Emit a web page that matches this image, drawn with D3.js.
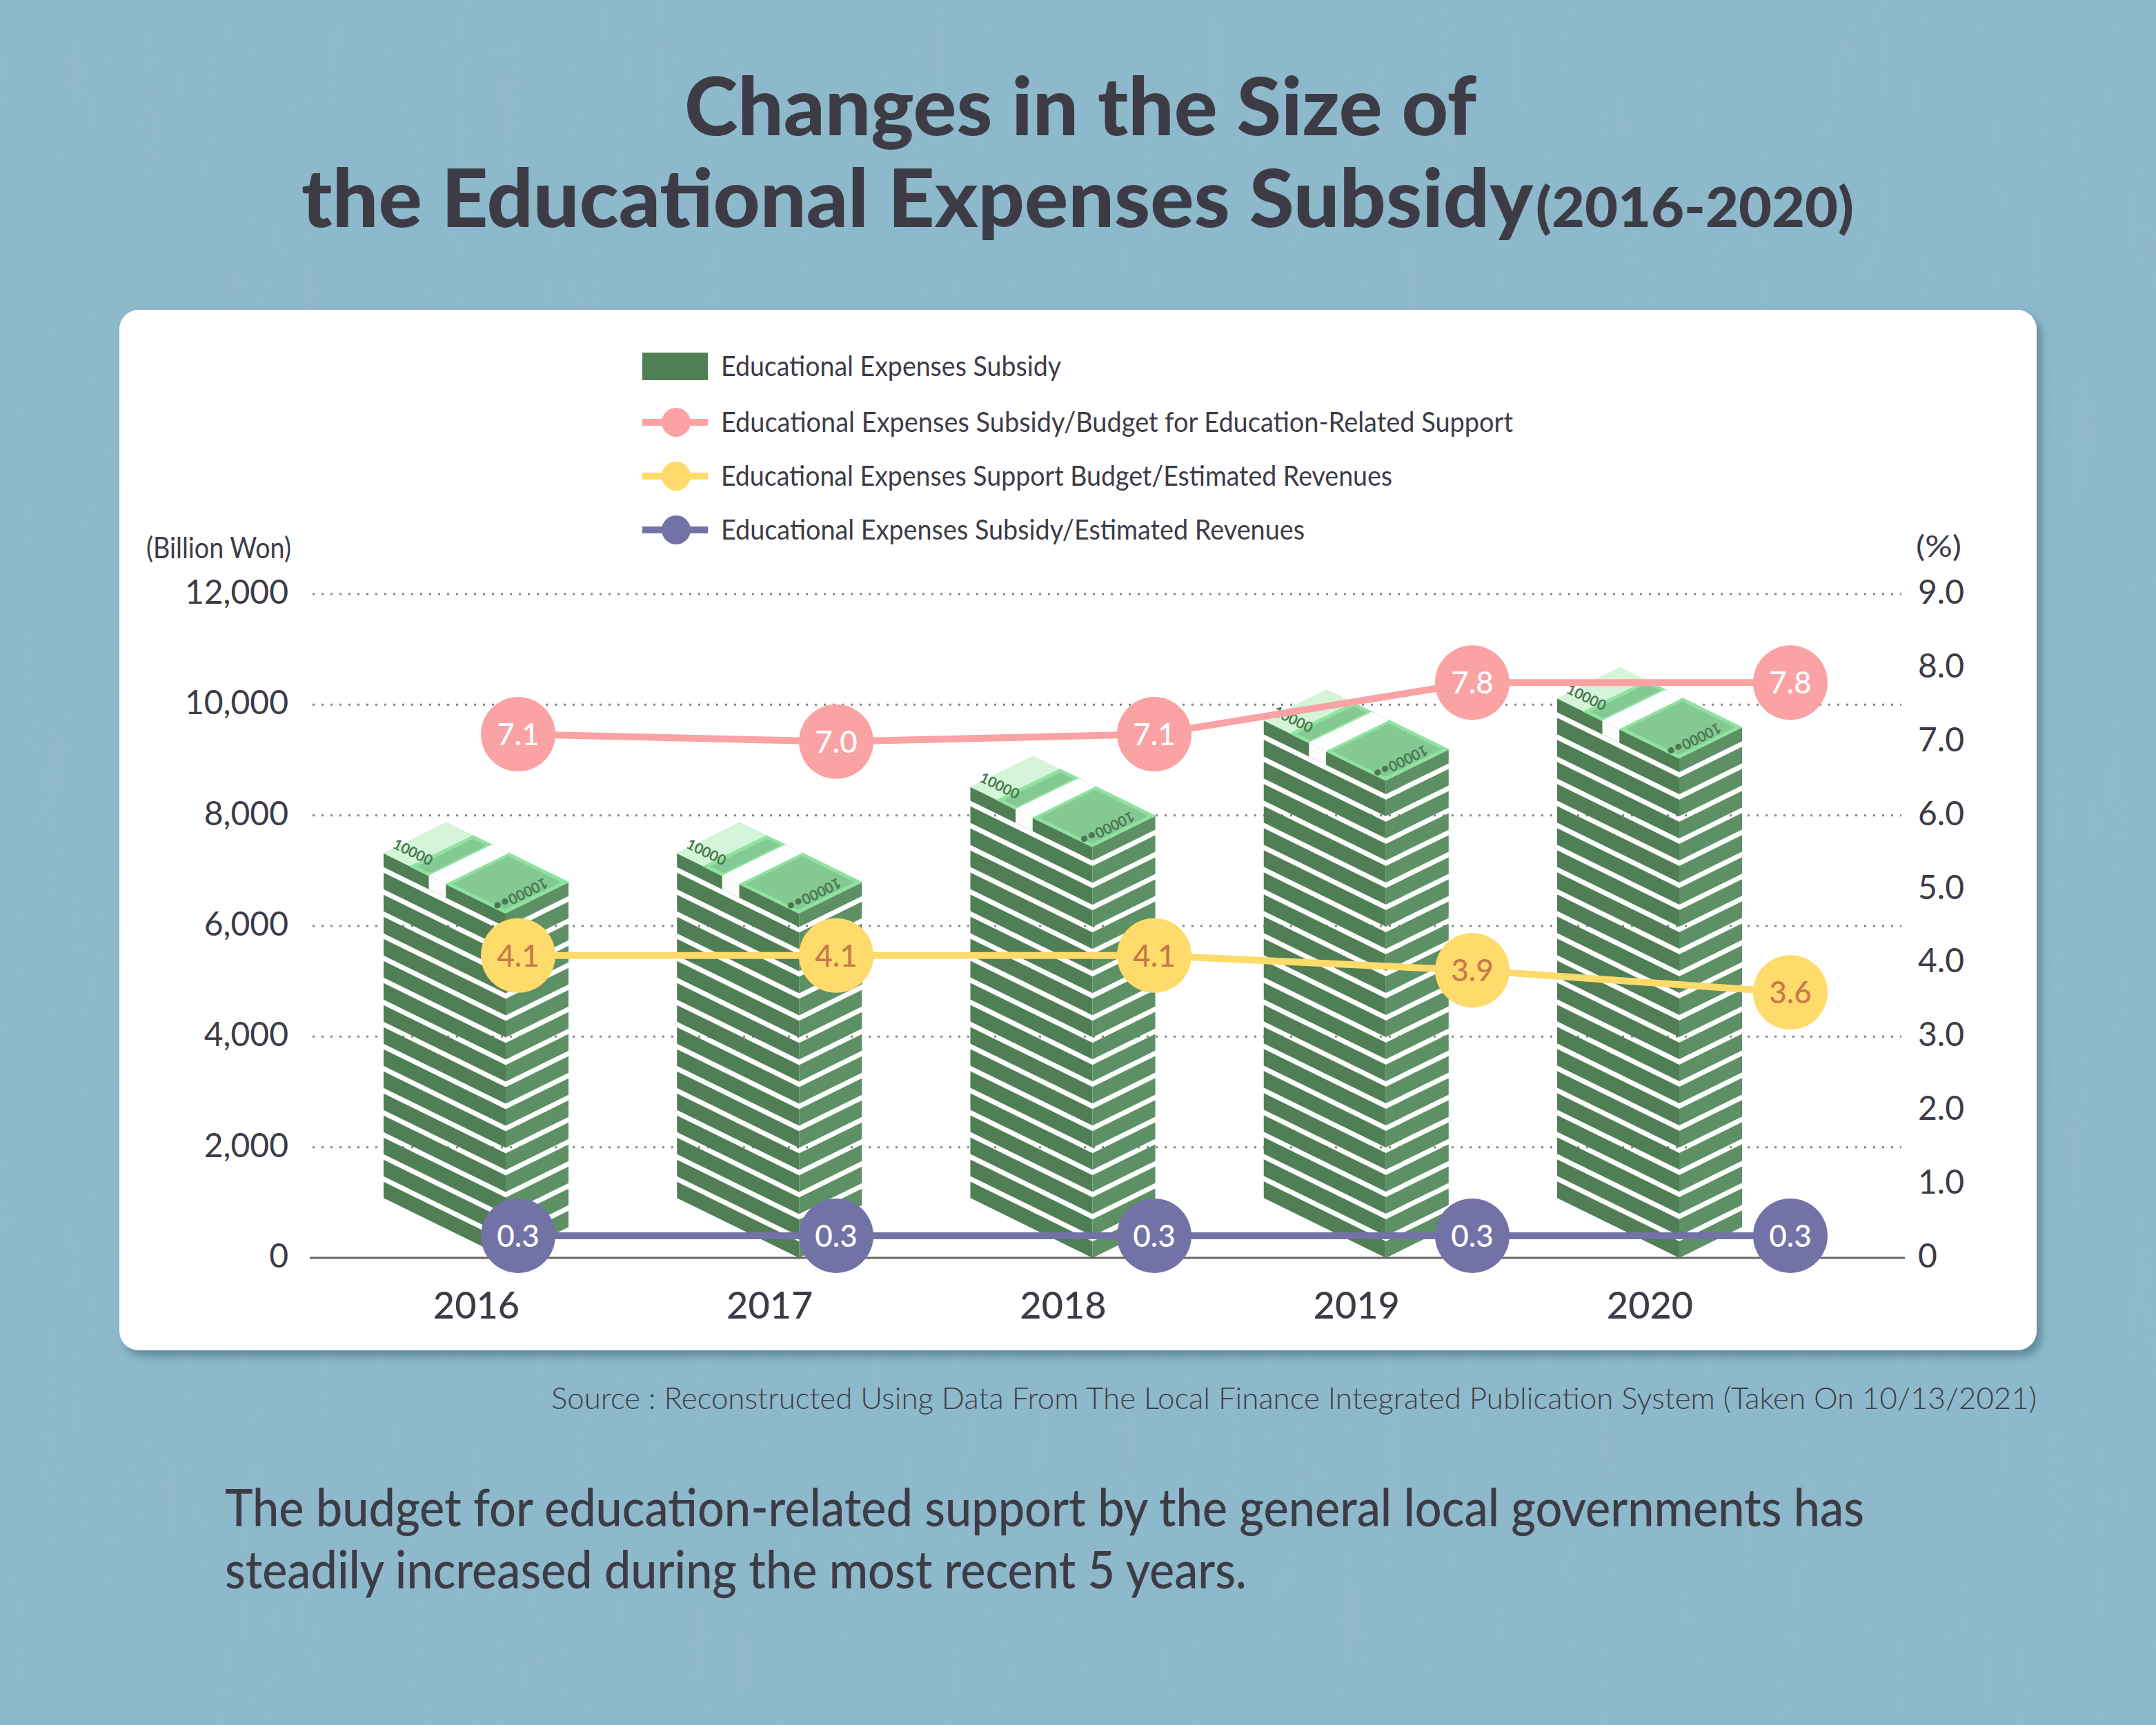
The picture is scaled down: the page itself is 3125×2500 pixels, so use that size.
<!DOCTYPE html>
<html>
<head>
<meta charset="utf-8">
<script src="https://cdn.jsdelivr.net/npm/d3@7"></script>
<style>
  html, body { margin: 0; padding: 0; background: #8cb9cb; }
  svg { display: block; }
  text { font-family: Lato, "Open Sans", sans-serif; fill: #3d3c46; }
</style>
</head>
<body>
<svg id="chart" width="3125" height="2500"></svg>
<script>
(function(){
    'use strict';

    // ---- data ----
    var years = ['2016', '2017', '2018', '2019', '2020'];
    var subsidy = [7870, 7870, 9070, 10270, 10670];          // billion won
    var subsidyPerSupport = [7.1, 7.0, 7.1, 7.8, 7.8];       // %
    var supportPerRevenue = [4.1, 4.1, 4.1, 3.9, 3.6];       // %
    var subsidyPerRevenue = [0.3, 0.3, 0.3, 0.3, 0.3];       // %
    var leftTicks = [0, 2000, 4000, 6000, 8000, 10000, 12000];
    var rightTicks = [0, 1, 2, 3, 4, 5, 6, 7, 8, 9];
    var legendLabels = [
        'Educational Expenses Subsidy',
        'Educational Expenses Subsidy/Budget for Education-Related Support',
        'Educational Expenses Support Budget/Estimated Revenues',
        'Educational Expenses Subsidy/Estimated Revenues'
    ];

    var lineColors = ['#fba2a4', '#fedb6a', '#7372a7'];
    var labelColors = ['#ffffff', '#c8794b', '#ffffff'];
    var green = {left: '#507f56', right: '#5d9165', top: '#84c993', edge: '#8fe3a0', pale: '#d4f5d8', ink: '#4b7851'};

    var svg = d3.select('#chart');
    var defs = svg.append('defs');

    // paper texture + panel shadow
    var tex = defs.append('filter').attr('id', 'paper').attr('x', 0).attr('y', 0).attr('width', 1).attr('height', 1);
    tex.append('feTurbulence').attr('type', 'fractalNoise').attr('baseFrequency', '0.035 0.004')
        .attr('numOctaves', 3).attr('seed', 7);
    tex.append('feColorMatrix').attr('type', 'matrix')
        .attr('values', '0 0 0 0 0.35  0 0 0 0 0.5  0 0 0 0 0.6  0 0 0 -1.1 0.75');
    var sh = defs.append('filter').attr('id', 'shadow').attr('x', '-5%').attr('y', '-5%').attr('width', '110%').attr('height', '112%');
    sh.append('feDropShadow').attr('dx', 7).attr('dy', 9).attr('stdDeviation', 6)
        .attr('flood-color', '#3f6577').attr('flood-opacity', 0.55);

    svg.append('rect').attr('width', 3125).attr('height', 2500).attr('fill', '#8cb9cb');
    svg.append('rect').attr('width', 3125).attr('height', 2500).attr('filter', 'url(#paper)').attr('opacity', 0.35);

    // ---- titles ----
    svg.append('text').attr('x', 1566).attr('y', 196).attr('text-anchor', 'middle')
        .attr('font-size', 116).attr('font-weight', 900)
        .attr('textLength', 1148).attr('lengthAdjust', 'spacingAndGlyphs')
        .text('Changes in the Size of');
    svg.append('text').attr('x', 437).attr('y', 329)
        .attr('font-size', 116).attr('font-weight', 900)
        .attr('textLength', 1785).attr('lengthAdjust', 'spacingAndGlyphs')
        .text('the Educational Expenses Subsidy');
    svg.append('text').attr('x', 2226).attr('y', 329)
        .attr('font-size', 80).attr('font-weight', 900)
        .attr('textLength', 461).attr('lengthAdjust', 'spacingAndGlyphs')
        .text('(2016-2020)');

    // ---- white panel ----
    svg.append('rect').attr('x', 173).attr('y', 449).attr('width', 2779).attr('height', 1508)
        .attr('rx', 28).attr('fill', '#ffffff').attr('filter', 'url(#shadow)');

    // ---- scales ----
    var yLeft = d3.scaleLinear().domain([0, 12000]).range([1823, 861]);
    var yRight = d3.scaleLinear().domain([0, 9]).range([1823, 861]);
    var xBar = d3.scalePoint().domain(years).range([690, 2391]);
    var xLine = d3.scalePoint().domain(years).range([751, 2595]);

    var plot = svg.append('g');

    // dotted grid
    plot.selectAll('.grid').data(leftTicks.filter(function(d) { return d > 0; }))
        .enter().append('line').attr('class', 'grid')
        .attr('x1', 453).attr('x2', 2756)
        .attr('y1', function(d) { return yLeft(d); }).attr('y2', function(d) { return yLeft(d); })
        .attr('stroke', '#8a827d').attr('stroke-width', 3).attr('stroke-dasharray', '3 10');

    // axes
    var axL = plot.append('g').attr('transform', 'translate(453,0)')
        .call(d3.axisLeft(yLeft).tickValues(leftTicks).tickSize(0).tickPadding(35).tickFormat(d3.format(',')));
    var axR = plot.append('g').attr('transform', 'translate(2756,0)')
        .call(d3.axisRight(yRight).tickValues(rightTicks).tickSize(0).tickPadding(24)
            .tickFormat(function(d) { return d === 0 ? '0' : d3.format('.1f')(d); }));
    [axL, axR].forEach(function(ax) {
        ax.select('.domain').remove();
        ax.selectAll('text').attr('font-size', 48).attr('font-family', 'Lato, sans-serif')
            .attr('fill', '#3d3c46').attr('dy', '0.28em');
    });

    plot.append('text').attr('x', 422).attr('y', 809).attr('text-anchor', 'end')
        .attr('font-size', 42).attr('textLength', 210).attr('lengthAdjust', 'spacingAndGlyphs')
        .text('(Billion Won)');
    plot.append('text').attr('x', 2777).attr('y', 807)
        .attr('font-size', 42).attr('textLength', 66).attr('lengthAdjust', 'spacingAndGlyphs')
        .text('(%)');

    // ---- money stacks ----
    function drawStack(g, cx, top, base) {
        var wl = 177, wr = 91, k = 0.49;
        var x0 = cx - (wl + wr) / 2, xf = x0 + wl, x1 = xf + wr;
        var dL = wl * k, dR = wr * k;
        var Ly = top + dR, Fy = top + dR + dL, Ry = top + dL;
        var bodyH = base - Fy;

        function P(u, v) { return [x0 + u * wl + v * wr, Ly + u * dL - v * dR]; }
        function quad(u0, u1) { return [P(u0, 0), P(u1, 0), P(u1, 1), P(u0, 1)]; }
        var poly = function(pts) { return 'M' + pts.map(function(p) { return p.join(','); }).join('L') + 'Z'; };

        // bill layers, the gaps between them are left open
        var layers = [[0, 20]];
        for (var a = 28; a < bodyH - 2; a += 32) layers.push([a, Math.min(a + 24, bodyH)]);
        layers.forEach(function(l) {
            g.append('path').attr('fill', green.left)
                .attr('d', poly([[x0, Ly + l[0]], [xf, Fy + l[0]], [xf, Fy + l[1]], [x0, Ly + l[1]]]));
            g.append('path').attr('fill', green.right)
                .attr('d', poly([[xf, Fy + l[0]], [x1, Ry + l[0]], [x1, Ry + l[1]], [xf, Fy + l[1]]]));
        });

        // top face
        g.append('path').attr('fill', green.top).attr('d', poly([P(0, 0), P(1, 0), P(1, 1), P(0, 1)]));
        g.append('path').attr('fill', green.pale).attr('d', poly(quad(0, 0.23)));
        g.append('path').attr('fill', green.top).attr('stroke', green.edge).attr('stroke-width', 5)
            .attr('d', poly([P(0.23, 0.02), P(0.37, 0.02), P(0.37, 0.98), P(0.23, 0.98)]));
        g.append('path').attr('fill', green.top).attr('stroke', green.edge).attr('stroke-width', 5)
            .attr('d', poly([P(0.52, 0.02), P(0.985, 0.02), P(0.985, 0.98), P(0.52, 0.98)]));
        // paper strap
        g.append('path').attr('fill', '#ffffff').attr('d', poly(quad(0.37, 0.51)));
        var s0 = P(0.37, 0), s1 = P(0.51, 0);
        g.append('path').attr('fill', '#fbfcfb')
            .attr('d', poly([s0, s1, [s1[0], s1[1] + 20], [s0[0], s0[1] + 20]]));

        var ang = Math.atan2(dL, wl) * 180 / Math.PI;
        var t1 = P(0.14, 0.16);
        g.append('text').attr('transform', 'translate(' + t1[0] + ',' + t1[1] + ') rotate(' + ang + ')')
            .attr('text-anchor', 'middle').attr('font-size', 21).attr('font-weight', 700)
            .style('fill', green.ink).text('10000');
        var t2 = P(0.86, 0.47);
        g.append('text').attr('transform', 'translate(' + t2[0] + ',' + t2[1] + ') rotate(' + (180 - ang) + ')')
            .attr('text-anchor', 'middle').attr('font-size', 21).attr('font-weight', 700)
            .style('fill', green.ink).text('10000\u2022\u2022');
    }

    var bars = plot.selectAll('.stack').data(subsidy).enter().append('g').attr('class', 'stack');
    bars.each(function(d, i) {
        drawStack(d3.select(this), xBar(years[i]), yLeft(d), yLeft(0));
    });

    // baseline
    plot.append('line').attr('x1', 449).attr('x2', 2761)
        .attr('y1', yLeft(0)).attr('y2', yLeft(0))
        .attr('stroke', '#6d6663').attr('stroke-width', 3);

    // year labels
    var axX = plot.append('g').attr('transform', 'translate(0,' + yLeft(0) + ')')
        .call(d3.axisBottom(xBar).tickSize(0).tickPadding(50));
    axX.select('.domain').remove();
    axX.selectAll('text').attr('font-size', 54).attr('font-weight', 500)
        .attr('font-family', 'Lato, sans-serif').attr('fill', '#3d3c46');

    // ---- ratio lines ----
    var series = [subsidyPerSupport, supportPerRevenue, subsidyPerRevenue];
    var line = d3.line()
        .x(function(d, i) { return xLine(years[i]); })
        .y(function(d) { return yRight(d); });

    series.forEach(function(s, j) {
        var g = plot.append('g');
        g.append('path').datum(s).attr('d', line).attr('fill', 'none')
            .attr('stroke', lineColors[j]).attr('stroke-width', 10);
        var pts = g.selectAll('g.pt').data(s).enter().append('g').attr('class', 'pt')
            .attr('transform', function(d, i) { return 'translate(' + xLine(years[i]) + ',' + yRight(d) + ')'; });
        pts.append('circle').attr('r', 54).attr('fill', lineColors[j]);
        pts.append('text').attr('text-anchor', 'middle').attr('dy', '0.36em')
            .attr('font-size', 44).attr('font-weight', 500)
            .style('fill', labelColors[j])
            .text(function(d) { return d3.format('.1f')(d); });
    });

    // ---- legend ----
    var legendRowY = [531, 612, 690, 768];
    var legendWidths = [493, 1148, 973, 846];
    var legend = svg.append('g');
    legend.append('rect').attr('x', 931).attr('y', legendRowY[0] - 20).attr('width', 95).attr('height', 40)
        .attr('fill', green.left);
    lineColors.forEach(function(c, j) {
        var y = legendRowY[j + 1];
        legend.append('line').attr('x1', 931).attr('x2', 1026).attr('y1', y).attr('y2', y)
            .attr('stroke', c).attr('stroke-width', 10);
        legend.append('circle').attr('cx', 980).attr('cy', y).attr('r', 21).attr('fill', c);
    });
    legend.selectAll('text.lg').data(legendLabels).enter().append('text').attr('class', 'lg')
        .attr('x', 1045).attr('y', function(d, i) { return legendRowY[i] + 14; })
        .attr('font-size', 40)
        .attr('textLength', function(d, i) { return legendWidths[i]; })
        .attr('lengthAdjust', 'spacingAndGlyphs')
        .text(function(d) { return d; });

    // ---- source and note ----
    svg.append('text').attr('x', 2952).attr('y', 2042).attr('text-anchor', 'end')
        .attr('font-size', 44).attr('font-weight', 300)
        .attr('textLength', 2153).attr('lengthAdjust', 'spacingAndGlyphs')
        .text('Source : Reconstructed Using Data From The Local Finance Integrated Publication System (Taken On 10/13/2021)');
    svg.append('text').attr('x', 326).attr('y', 2212)
        .attr('font-size', 76).attr('font-weight', 500)
        .attr('textLength', 2376).attr('lengthAdjust', 'spacingAndGlyphs')
        .text('The budget for education-related support by the general local governments has');
    svg.append('text').attr('x', 326).attr('y', 2302)
        .attr('font-size', 76).attr('font-weight', 500)
        .attr('textLength', 1481).attr('lengthAdjust', 'spacingAndGlyphs')
        .text('steadily increased during the most recent 5 years.');
})();
</script>
</body>
</html>
